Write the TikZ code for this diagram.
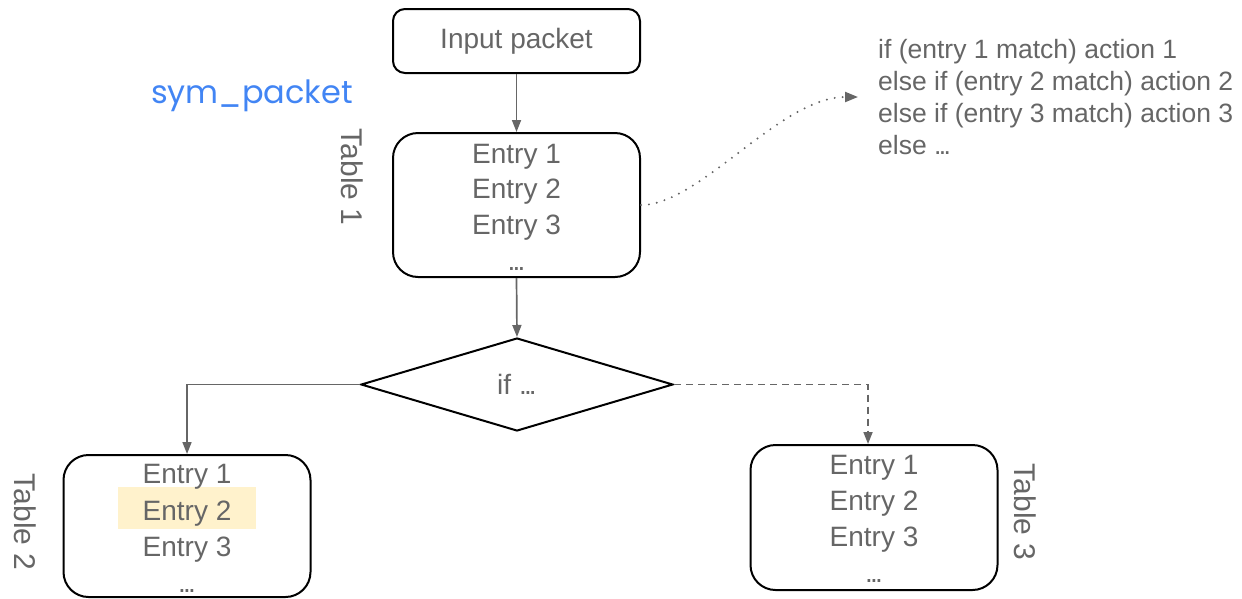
\documentclass[tikz,border=0pt]{standalone}
\usepackage{fontspec}
\setmainfont{Liberation Sans}
\newfontfamily\symfont{Poppins}
\usetikzlibrary{shapes.geometric,arrows.meta}
\definecolor{txtgray}{HTML}{666666}
\definecolor{linegray}{HTML}{666666}
\definecolor{symblue}{HTML}{4285F4}
\definecolor{hilite}{HTML}{FFF2CC}
% compact ellipsis
\newcommand{\tightdots}{.\kern-0.1em.\kern-0.1em.}
\begin{document}
\begin{tikzpicture}[x=1pt,y=-1pt,
  tablebox/.style={draw=black,line width=2pt,rounded corners=25pt,inner sep=0pt,
    minimum width=247pt,minimum height=144pt},
  entry/.style={anchor=base,inner sep=0pt,text=txtgray,font=\fontsize{28}{34}\selectfont},
  tablelabel/.style={rotate=-90,inner sep=0pt,text=txtgray,font=\fontsize{30}{34}\selectfont},
  conn/.style={draw=linegray,line width=1.7pt,-{Triangle[length=12pt,width=9pt]}},
  dashconn/.style={conn,dash pattern=on 7pt off 5pt},
  dotconn/.style={draw=linegray,line width=2.2pt,line cap=round,dash pattern=on 0pt off 8pt,
    -{Triangle[length=13pt,width=10pt]}}
]
\useasboundingbox (0,0) rectangle (1242,598);

% input node
\node[draw=black,line width=2pt,rounded corners=12pt,minimum width=247pt,minimum height=64pt,
  text=txtgray,font=\fontsize{28}{34}\selectfont] (inp) at (516.5,41) {Input packet};

\node[anchor=base,inner sep=0pt,text=symblue,font=\symfont\fontsize{32}{38}\selectfont]
  (sym) at (252,103) {sym\_packet};

% table 1
\node[tablebox] (t1) at (516.5,205) {};
\node[entry] (t1e1) at (516.5,163) {Entry 1};
\node[entry] (t1e2) at (516.5,198) {Entry 2};
\node[entry] (t1e3) at (516.5,234) {Entry 3};
\node[entry] (t1e4) at (516.5,270) {\tightdots};
\node[tablelabel] (t1l) at (352,177) {Table 1};

% action list
\node[anchor=west,inner xsep=18pt,inner ysep=0pt,align=left,text=txtgray,
  font=\fontsize{26.5}{32}\selectfont] (code) at (860,97)
  {if (entry 1 match) action 1\\else if (entry 2 match) action 2\\else if (entry 3 match) action 3\\else \tightdots};

% decision
\node[diamond,draw=black,line width=2pt,aspect=3.35,minimum width=312pt,minimum height=93pt,
  inner sep=0pt] (dia) at (517,384.5) {};
\node[entry] (ift) at (517,394) {if \tightdots};

% table 2
\node[tablebox,minimum height=142pt] (t2) at (187,526) {};
\fill[hilite] (118,487) rectangle (256,529);
\node[entry] (t2e1) at (187,483) {Entry 1};
\node[entry] (t2e2) at (187,520) {Entry 2};
\node[entry] (t2e3) at (187,556) {Entry 3};
\node[entry] (t2e4) at (187,592) {\tightdots};
\node[tablelabel] (t2l) at (25,522) {Table 2};

% table 3
\node[tablebox,minimum height=145pt] (t3) at (874,517.5) {};
\node[entry] (t3e1) at (874,474) {Entry 1};
\node[entry] (t3e2) at (874,510) {Entry 2};
\node[entry] (t3e3) at (874,546) {Entry 3};
\node[entry] (t3e4) at (874,582) {\tightdots};
\node[tablelabel] (t3l) at (1025,512) {Table 3};

% connectors
\draw[conn] (inp.south) -- (t1.north);
\draw[conn] (t1.south) -- (dia.north);
\draw[conn] (dia.west) -| (t2.north);
\draw[dashconn] (dia.east) -| ([xshift=-6pt]t3.north);
\draw[dotconn] (t1.east) .. controls (700,205) and (780,97) .. ([xshift=-2pt]code.west);
\end{tikzpicture}
\end{document}
